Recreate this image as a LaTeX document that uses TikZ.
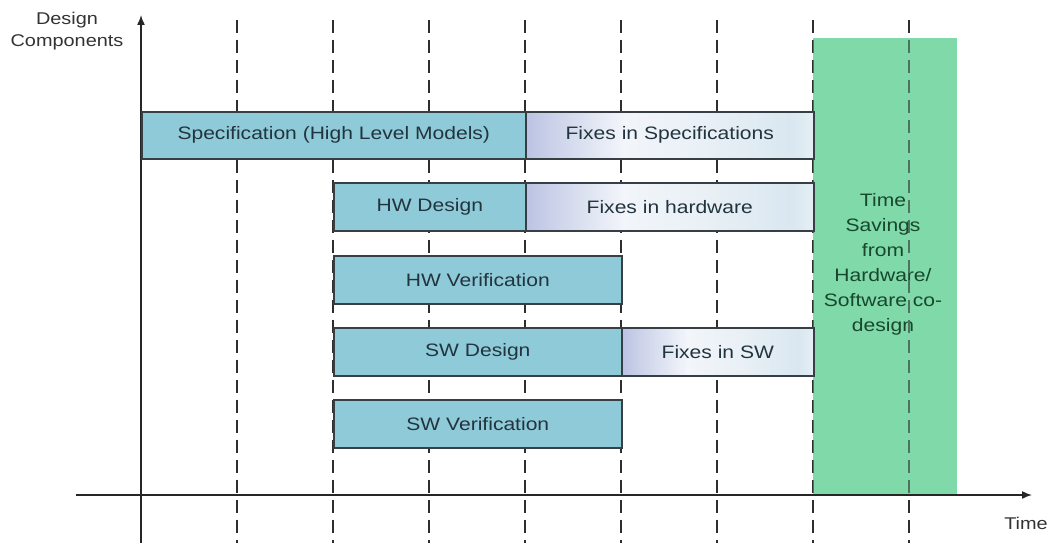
\documentclass[tikz,border=0pt]{standalone}
\usepackage{fontspec}
\setmainfont{Liberation Sans}[FakeStretch=1.17]
\usetikzlibrary{arrows.meta}
\definecolor{barfill}{HTML}{8FCAD8}
\definecolor{bartext}{HTML}{22343E}
\definecolor{savefill}{HTML}{80D9A9}
\definecolor{savetext}{HTML}{17482C}
\definecolor{edge}{HTML}{373F45}
\definecolor{grid}{HTML}{2E2E2E}
% pale fill of the "fixes" bars: lavender at the left end, white, then light blue
\pgfdeclarehorizontalshading{fixshade}{100bp}{%
  color(0bp)=(rgb,255:red,188;green,195;blue,227);
  color(25bp)=(rgb,255:red,188;green,195;blue,227);
  color(33bp)=(rgb,255:red,214;green,220;blue,238);
  color(42bp)=(rgb,255:red,242;green,245;blue,250);
  color(56bp)=(rgb,255:red,233;green,240;blue,246);
  color(71bp)=(rgb,255:red,218;green,231;blue,240);
  color(75bp)=(rgb,255:red,228;green,238;blue,245);
  color(100bp)=(rgb,255:red,228;green,238;blue,245)}
\begin{document}
\begin{tikzpicture}[x=1pt,y=-1pt,
  lbl/.style={font=\fontsize{18}{21}\selectfont},
  bar/.style={lbl,draw=edge,line width=1.6pt,fill=barfill,text=bartext,
    inner sep=0pt,anchor=north west},
  fixbar/.style={bar,shading=fixshade},
  gridline/.style={line width=1.7pt,dash pattern=on 13pt off 7pt},
  axis/.style={draw=black!85,line width=1.5pt,-{Latex[length=10pt,width=8pt]}},
  savebox/.style={fill=savefill,inner sep=0pt,anchor=north west}]
\useasboundingbox (0,0) rectangle (1053,543);

% savings band and its label
\node[savebox,minimum width=144pt,minimum height=457pt] (savings) at (813,38) {};
\node[lbl,text=savetext,align=center,font=\fontsize{18}{25}\selectfont]
  (savetxt) at (883,264)
  {Time\\Savings\\from\\Hardware/\\Software co-\\design};

% time grid
\foreach \k in {0,...,7}{
  \coordinate (gtop\k) at (237+96*\k,20);
  \coordinate (gbot\k) at (237+96*\k,543);
  \draw[gridline,draw=grid] (gtop\k) -- (gbot\k);
}
% grid lines seen through the band
\begin{scope}
  \clip (savings.north west) rectangle (savings.south east);
  \foreach \k in {6,7}{
    \draw[gridline,draw=grid!60!savefill] (gtop\k) -- (gbot\k);
  }
\end{scope}

% axes
\coordinate (yfoot) at (141,543);
\coordinate (ytip) at (141,15);
\coordinate (xfoot) at (76,495);
\coordinate (xtip) at (1032,495);
\draw[axis] (yfoot) -- (ytip);
\draw[axis] (xfoot) -- (xtip);

% activity bars
\node[bar,minimum width=384pt,minimum height=47pt] (spec) at (141,111)
  {Specification (High Level Models)};
\node[fixbar,minimum width=288pt,minimum height=47pt] (fixspec) at (525,111)
  {Fixes in Specifications};
\node[bar,minimum width=192pt,minimum height=48pt] (hwd) at (333,182)
  {HW Design};
\node[fixbar,minimum width=288pt,minimum height=48pt] (fixhw) at (525,182)
  {Fixes in hardware};
\node[bar,minimum width=288pt,minimum height=48pt] (hwv) at (333,255)
  {HW Verification};
\node[bar,minimum width=288pt,minimum height=48pt] (swd) at (333,327)
  {SW Design};
\node[fixbar,minimum width=192pt,minimum height=48pt] (fixsw) at (621,327)
  {Fixes in SW};
\node[bar,minimum width=288pt,minimum height=48pt] (swv) at (333,399)
  {SW Verification};

% axis titles
\node[lbl,align=center,text=black!80,font=\fontsize{17}{22}\selectfont] (ytitle) at (67,31)
  {Design\\Components};
\node[lbl,text=black!80,font=\fontsize{17}{22}\selectfont] (xtitle) at (1026,523) {Time};
\end{tikzpicture}
\end{document}
